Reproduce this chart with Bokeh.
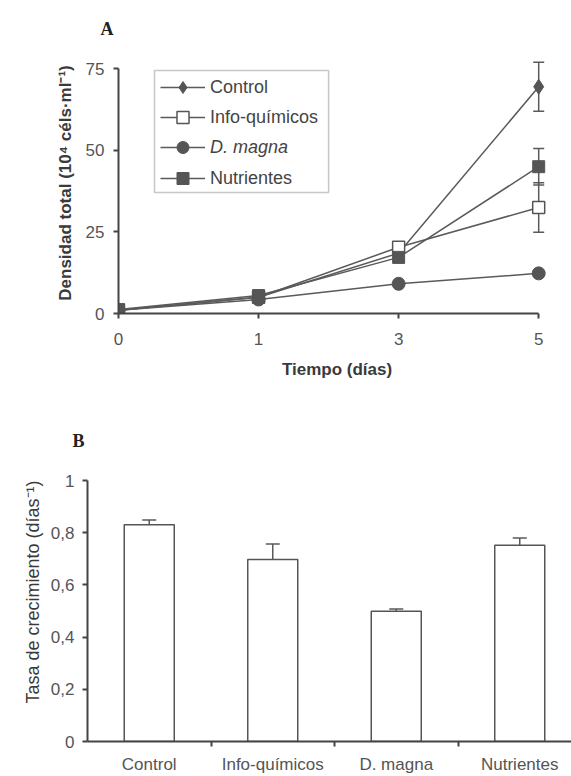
import math
from bokeh.plotting import figure
from bokeh.models import (Legend, LegendItem, FixedTicker, Whisker, ColumnDataSource,
                          BoxAnnotation, TeeHead, Title)
from bokeh.embed import file_html
from bokeh.resources import INLINE

# ---------------- data ----------------
days = ["0", "1", "3", "5"]
control = [1.0, 5.0, 18.5, 69.5]
control_err = [0, 0, 0, 7.5]
info = [1.0, 5.0, 20.3, 32.5]
info_err = [0, 0, 0, 7.6]
dmagna = [1.0, 4.3, 9.1, 12.3]
dmagna_err = [0, 0, 0, 0.6]
nutri = [1.2, 5.5, 17.2, 45.0]
nutri_err = [0, 0, 0, 5.6]

groups = ["Control", "Info-químicos", "D. magna", "Nutrientes"]
rate = [0.830, 0.697, 0.499, 0.752]
rate_err = [0.019, 0.060, 0.009, 0.028]

yticksA = [0, 25, 50, 75]
yticksB = [0, 0.2, 0.4, 0.6, 0.8, 1]
yticklabB = ["0", "0,2", "0,4", "0,6", "0,8", "1"]

# ---------------- style ----------------
FONT = "Liberation Sans"
SERIF = "Liberation Serif"
AX = "#444444"
TXT = "#555555"
LINE = "#5a5a5a"
MK = "#555555"

def style_axis(ax):
    ax.axis_line_color = AX
    ax.axis_line_width = 2
    ax.major_tick_line_color = AX
    ax.major_tick_line_width = 2
    ax.major_tick_out = 5
    ax.major_tick_in = 0
    ax.minor_tick_line_color = None
    ax.major_label_text_font = FONT
    ax.major_label_text_font_size = "17px"
    ax.major_label_text_color = TXT
    ax.axis_label_text_font = FONT
    ax.axis_label_text_font_size = "17px"
    ax.axis_label_text_color = "#3a3a3a"
    ax.axis_label_text_font_style = "normal"

def style_title(t, standoff):
    t.text_font = SERIF
    t.text_font_style = "bold"
    t.text_font_size = "18px"
    t.text_line_height = 1.0
    t.text_color = "#222222"
    t.align = "left"
    t.standoff = standoff

# ---------------- panel A ----------------
XA0, XA1 = 0, 3.12
YA0, YA1 = 0, 80
pA = figure(width=571, height=383, x_range=(XA0, XA1), y_range=(YA0, YA1),
            output_backend="svg", toolbar_location=None, title="A",
            min_border_left=118, min_border_right=16, min_border_top=52, min_border_bottom=70)
pA.outline_line_color = None
pA.grid.visible = False
style_title(pA.title, 28)
pA.title.offset = -18
for ax in (pA.xaxis[0], pA.yaxis[0]):
    style_axis(ax)

xidx = list(range(len(days)))
pA.xaxis.ticker = FixedTicker(ticks=xidx)
pA.xaxis.major_label_overrides = {i: d for i, d in enumerate(days)}
pA.xaxis.bounds = (0, len(days) - 1)
pA.xaxis.major_label_standoff = 14
pA.xaxis.axis_label = "Tiempo (días)"
pA.xaxis.axis_label_text_font_style = "bold"
pA.xaxis.axis_label_standoff = 12

pA.yaxis.ticker = FixedTicker(ticks=yticksA)
pA.yaxis.bounds = (0, 75)
pA.yaxis.major_label_standoff = 9
pA.yaxis.axis_label = "Densidad total (10⁴ céls·ml⁻¹)"
pA.yaxis.axis_label_text_font_style = "bold"
pA.yaxis.axis_label_standoff = 8

series = [
    ("Control", control, control_err, dict(marker="diamond", size=15,
                                           fill_color=MK, line_color=MK)),
    ("Info-químicos", info, info_err, dict(marker="square", size=12,
                                           fill_color="white", line_color=MK, line_width=1.5)),
    ("D. magna", dmagna, dmagna_err, dict(marker="circle", size=13,
                                          fill_color=MK, line_color=MK)),
    ("Nutrientes", nutri, nutri_err, dict(marker="square", size=12,
                                          fill_color=MK, line_color=MK)),
]

rend = {}
for name, vals, errs, mk in series:
    src = ColumnDataSource(dict(x=xidx, y=vals))
    l = pA.line("x", "y", source=src, line_color=LINE, line_width=1.5)
    ex = [x for x, e in zip(xidx, errs) if e > 0]
    up = [v + e for v, e in zip(vals, errs) if e > 0]
    lo = [v - e for v, e in zip(vals, errs) if e > 0]
    if ex:
        wsrc = ColumnDataSource(dict(base=ex, upper=up, lower=lo))
        w = Whisker(source=wsrc, base="base", upper="upper", lower="lower",
                    dimension="height", line_color=LINE, line_width=1.5,
                    upper_head=TeeHead(size=11, line_color=LINE, line_width=1.5),
                    lower_head=TeeHead(size=11, line_color=LINE, line_width=1.5))
        pA.add_layout(w)
    s = pA.scatter("x", "y", source=src, **mk)
    rend[name] = [l, s]

# legend: three stacked legends (so that "D. magna" can be italic) inside one frame box
FL, FB = 118, 313            # px of frame left / frame bottom (y=0)
PXX = 140.0                  # px per x unit
PXY = 261 / 80.0             # px per y unit
def dx(px):
    return XA0 + (px - FL) / PXX
def dy(py):
    return (FB - py) / PXY

leg_common = dict(border_line_color=None, background_fill_alpha=0, padding=0, spacing=0,
                  glyph_width=45, glyph_height=30, label_height=30, label_standoff=5,
                  label_text_font=FONT, label_text_font_size="18px",
                  label_text_color="#444444", margin=0)
legA1 = Legend(items=[LegendItem(label="Control", renderers=rend["Control"]),
                      LegendItem(label="Info-químicos", renderers=rend["Info-químicos"])],
               location=(42, 181), **leg_common)
legA2 = Legend(items=[LegendItem(label="D. magna", renderers=rend["D. magna"])],
               location=(42, 151), label_text_font_style="italic", **leg_common)
legA3 = Legend(items=[LegendItem(label="Nutrientes", renderers=rend["Nutrientes"])],
               location=(42, 120), **leg_common)
for lg in (legA1, legA2, legA3):
    pA.add_layout(lg, "center")

box = BoxAnnotation(left=dx(154), right=dx(328), top=dy(70), bottom=dy(192),
                    fill_alpha=0, line_color=AX, line_width=1.5)
pA.add_layout(box)

# ---------------- panel B ----------------
PXB = 123.5
XB1 = (571 - 87) / PXB
pB = figure(width=571, height=393, x_range=(0, XB1), y_range=(0, 1),
            output_backend="svg", toolbar_location=None, title="B",
            min_border_left=87, min_border_right=0, min_border_top=97, min_border_bottom=35)
pB.outline_line_color = None
pB.grid.visible = False
style_title(pB.title, 60)
pB.title.offset = -15
for ax in (pB.xaxis[0], pB.yaxis[0]):
    style_axis(ax)

xc = [i + 0.5 for i in range(len(groups))]
pB.xaxis.ticker = FixedTicker(ticks=xc, minor_ticks=[i for i in range(1, len(groups))])
pB.xaxis.major_label_overrides = {c: g for c, g in zip(xc, groups)}
pB.xaxis.major_tick_out = 0
pB.xaxis.major_tick_line_color = None
pB.xaxis.minor_tick_line_color = AX
pB.xaxis.minor_tick_line_width = 2
pB.xaxis.minor_tick_out = 5
pB.xaxis.minor_tick_in = 0
pB.xaxis.major_label_standoff = 8

pB.yaxis.ticker = FixedTicker(ticks=yticksB)
pB.yaxis.major_label_overrides = {t: l for t, l in zip(yticksB, yticklabB)}
pB.yaxis.major_label_standoff = 8

ylabB = Title(text="Tasa de crecimiento (días⁻¹)", align="left", offset=38,
              text_font=FONT, text_font_size="18px", text_font_style="normal",
              text_color="#3a3a3a", standoff=9)
pB.add_layout(ylabB, "left")

bsrc = ColumnDataSource(dict(x=xc, top=rate, up=[r + e for r, e in zip(rate, rate_err)]))
pB.vbar(x="x", top="top", bottom=0, width=0.405, source=bsrc,
        fill_color="white", line_color=MK, line_width=1.5)
pB.add_layout(Whisker(source=bsrc, base="x", upper="up", lower="top", dimension="height",
                      line_color=LINE, line_width=1.5, lower_head=None,
                      upper_head=TeeHead(size=14, line_color=LINE, line_width=1.5)))

# two separate roots, stacked on the page (no frame alignment between the panels)
open("out.html", "w").write(file_html([pA, pB], INLINE))
